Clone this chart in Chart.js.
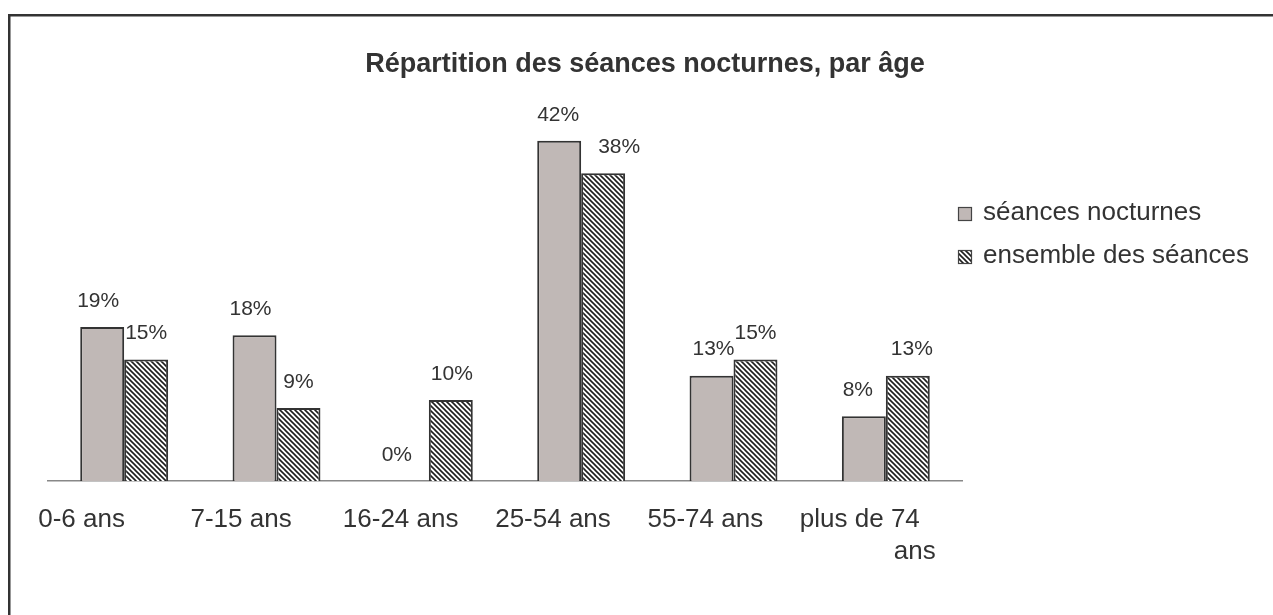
<!DOCTYPE html>
<html>
<head>
<meta charset="utf-8">
<script src="https://cdn.jsdelivr.net/npm/chart.js@4"></script>
<style>
  body { margin: 0; background: #fff; }
  #wrap { width: 1273px; height: 615px; position: relative; }
</style>
</head>
<body>
<div id="wrap"><canvas id="myChart"></canvas></div>
<script>
var titre = "Répartition des séances nocturnes, par âge";
var categories = ["0-6 ans", "7-15 ans", "16-24 ans", "25-54 ans", "55-74 ans", ["plus de 74", "ans"]];
var serieNoms = ["séances nocturnes", "ensemble des séances"];
var nocturnes = [19, 18, 0, 42, 13, 8];
var ensemble = [15, 9, 10, 38, 15, 13];

var FONT = "'Liberation Sans', Arial, sans-serif";
var TXT = "#333333";

function hachures() {
  var c = document.createElement("canvas");
  c.width = 5; c.height = 5;
  var x = c.getContext("2d");
  x.fillStyle = "#ffffff";
  x.fillRect(0, 0, 5, 5);
  x.strokeStyle = "#1e1e1e";
  x.lineWidth = 1.6;
  x.beginPath();
  x.moveTo(-1, -1); x.lineTo(6, 6);
  x.moveTo(-1, 4); x.lineTo(1, 6);
  x.moveTo(4, -1); x.lineTo(6, 1);
  x.stroke();
  return x.createPattern(c, "repeat");
}
var motif = hachures();

var decor = {
  id: "decor",
  beforeDraw: function(chart) {
    var ctx = chart.ctx;
    ctx.save();
    ctx.strokeStyle = "#333333";
    ctx.lineWidth = 2.5;
    ctx.strokeRect(9.25, 15.25, 1400, 800);
    ctx.restore();
  },
  afterDraw: function(chart) {
    var ctx = chart.ctx;
    var xs = chart.scales.x;
    ctx.save();
    // titre
    ctx.fillStyle = TXT;
    ctx.font = "bold 27px " + FONT;
    ctx.textAlign = "center";
    ctx.textBaseline = "middle";
    ctx.fillText(titre, 645, 65);
    // valeurs au-dessus des barres
    ctx.font = "21px " + FONT;
    var decal = [[-4, -4, -10, -1, 2, -6], [0, 0, 1, 16, 0, 4]];
    chart.data.datasets.forEach(function(ds, i) {
      chart.getDatasetMeta(i).data.forEach(function(bar, j) {
        ctx.fillText(ds.data[j] + "%", bar.x + decal[i][j], bar.y - 26);
      });
    });
    // libellés des catégories
    ctx.font = "26px " + FONT;
    chart.data.labels.forEach(function(lab, j) {
      var cx = xs.getPixelForValue(j);
      var lignes = Array.isArray(lab) ? lab : [lab];
      ctx.textAlign = "left";
      ctx.fillText(lignes[0], cx - 86, 520);
      if (lignes[1]) {
        ctx.textAlign = "center";
        ctx.fillText(lignes[1], cx + 29, 552);
      }
    });
    // légende
    ctx.textAlign = "left";
    chart.data.datasets.forEach(function(ds, i) {
      var y = 213 + i * 43;
      ctx.fillStyle = ds.backgroundColor;
      ctx.fillRect(958, y - 6, 14, 14);
      ctx.strokeStyle = "#444444";
      ctx.lineWidth = 1.2;
      ctx.strokeRect(958.5, y - 5.5, 13, 13);
      ctx.fillStyle = TXT;
      ctx.fillText(ds.label, 983, y);
    });
    ctx.restore();
  }
};

var chart = new Chart(document.getElementById("myChart"), {
  type: "bar",
  data: {
    labels: categories,
    datasets: [{
      label: serieNoms[0],
      data: nocturnes,
      backgroundColor: "#c0b8b6",
      borderColor: "#333333",
      borderWidth: 2
    }, {
      label: serieNoms[1],
      data: ensemble,
      backgroundColor: motif,
      borderColor: "#333333",
      borderWidth: 2
    }]
  },
  options: {
    responsive: true,
    maintainAspectRatio: false,
    animation: false,
    layout: { padding: { left: 48, right: 311, top: 76, bottom: 0 } },
    plugins: {
      legend: { display: false },
      title: { display: false },
      tooltip: { enabled: false }
    },
    datasets: { bar: { categoryPercentage: 0.577, barPercentage: 1 } },
    scales: {
      x: {
        grid: { display: false, drawTicks: false },
        border: { display: true, color: "#888888", width: 1.5 },
        ticks: { display: false },
        afterFit: function(s) { s.height = 134; }
      },
      y: {
        display: false,
        min: 0,
        max: 50
      }
    }
  },
  plugins: [decor]
});
</script>
</body>
</html>
